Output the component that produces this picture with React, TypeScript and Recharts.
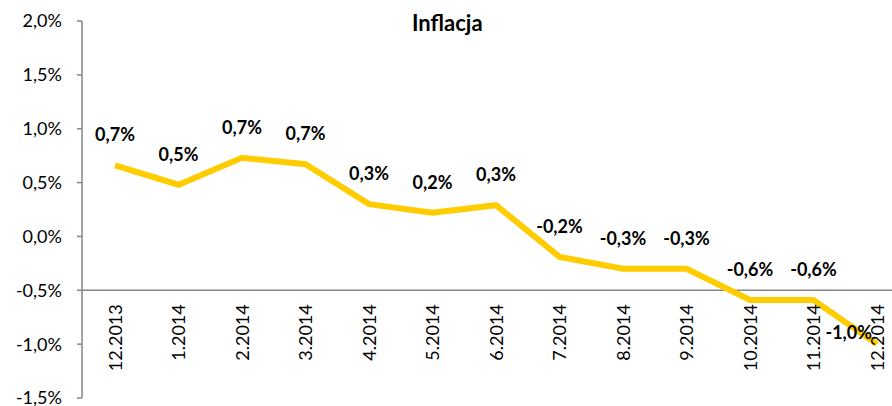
import React from "react";
import { LineChart, Line, XAxis, YAxis, ReferenceLine, LabelList } from "recharts";

const months = ["12.2013", "1.2014", "2.2014", "3.2014", "4.2014", "5.2014", "6.2014", "7.2014", "8.2014", "9.2014", "10.2014", "11.2014", "12.2014"];
const inflation = [0.66, 0.48, 0.73, 0.67, 0.3, 0.22, 0.29, -0.19, -0.3, -0.3, -0.59, -0.59, -1.0];
const yTicks = [-1.5, -1.0, -0.5, 0.0, 0.5, 1.0, 1.5, 2.0];
const title = "Inflacja";

const data = months.map((m, i) => ({ month: m, value: inflation[i] }));

const WIDTH = 892;
const HEIGHT = 406;
const X_AXIS_H = 2;
const MARGIN = { top: 21, right: 0, bottom: 6, left: 0 };
const Y_MIN = -1.5;
const Y_MAX = 2.0;
const AXIS_CROSS = -0.5;
const PLOT_H = HEIGHT - MARGIN.top - MARGIN.bottom - X_AXIS_H;
const AXIS_OFFSET = (PLOT_H * (AXIS_CROSS - Y_MIN)) / (Y_MAX - Y_MIN);

const FONT = "Lato, 'Open Sans', sans-serif";
const fmt = (v: number) => v.toFixed(1).replace(".", ",") + "%";

const XTick = (props: any) => {
  const { x, y, payload } = props;
  const ty = y - AXIS_OFFSET + 14;
  return (
    <g>
      <text
        x={x}
        y={ty}
        transform={`rotate(-90, ${x}, ${ty})`}
        textAnchor="end"
        dominantBaseline="central"
        fontFamily={FONT}
        fontSize={18}
        fill="#000"
      >
        {payload.value}
      </text>
    </g>
  );
};

const DataLabel = (props: any) => {
  const { x, y, value, index } = props;
  const last = index === data.length - 1;
  return (
    <text
      x={last ? x - 5 : x}
      y={last ? y - 5 : y - 24}
      textAnchor={last ? "end" : "middle"}
      fontFamily={FONT}
      fontSize={18}
      fontWeight={700}
      fill="#000"
    >
      {fmt(value)}
    </text>
  );
};

export default function App() {
  return (
    <div style={{ position: "absolute", left: 0, top: 0, width: WIDTH, height: HEIGHT, background: "#fff", overflow: "hidden" }}>
      <div
        style={{
          position: "absolute",
          left: 412,
          top: 12,
          fontFamily: FONT,
          fontWeight: 700,
          fontSize: 22,
          lineHeight: "22px",
          color: "#000",
          whiteSpace: "nowrap",
        }}
      >
        {title}
      </div>
      <LineChart width={WIDTH} height={HEIGHT} data={data} margin={MARGIN}>
        <XAxis
          dataKey="month"
          height={X_AXIS_H}
          axisLine={false}
          tickLine={false}
          tickSize={0}
          tickMargin={0}
          interval={0}
          padding={{ left: 33, right: 15 }}
          tick={(p: any) => <XTick {...p} />}
        />
        <YAxis
          width={82}
          domain={[Y_MIN, Y_MAX]}
          ticks={yTicks}
          tickFormatter={fmt}
          axisLine={{ stroke: "#868686", strokeWidth: 1.5 }}
          tickLine={{ stroke: "#868686", strokeWidth: 1.5 }}
          tickSize={5}
          tickMargin={15}
          tick={{ fontFamily: FONT, fontSize: 18, fill: "#000" }}
          interval={0}
        />
        <ReferenceLine y={AXIS_CROSS} stroke="#868686" strokeWidth={1.5} />
        <Line
          type="linear"
          dataKey="value"
          stroke="#FFCC00"
          strokeWidth={6}
          dot={false}
          activeDot={false}
          isAnimationActive={false}
        >
          <LabelList dataKey="value" content={<DataLabel />} />
        </Line>
      </LineChart>
    </div>
  );
}
